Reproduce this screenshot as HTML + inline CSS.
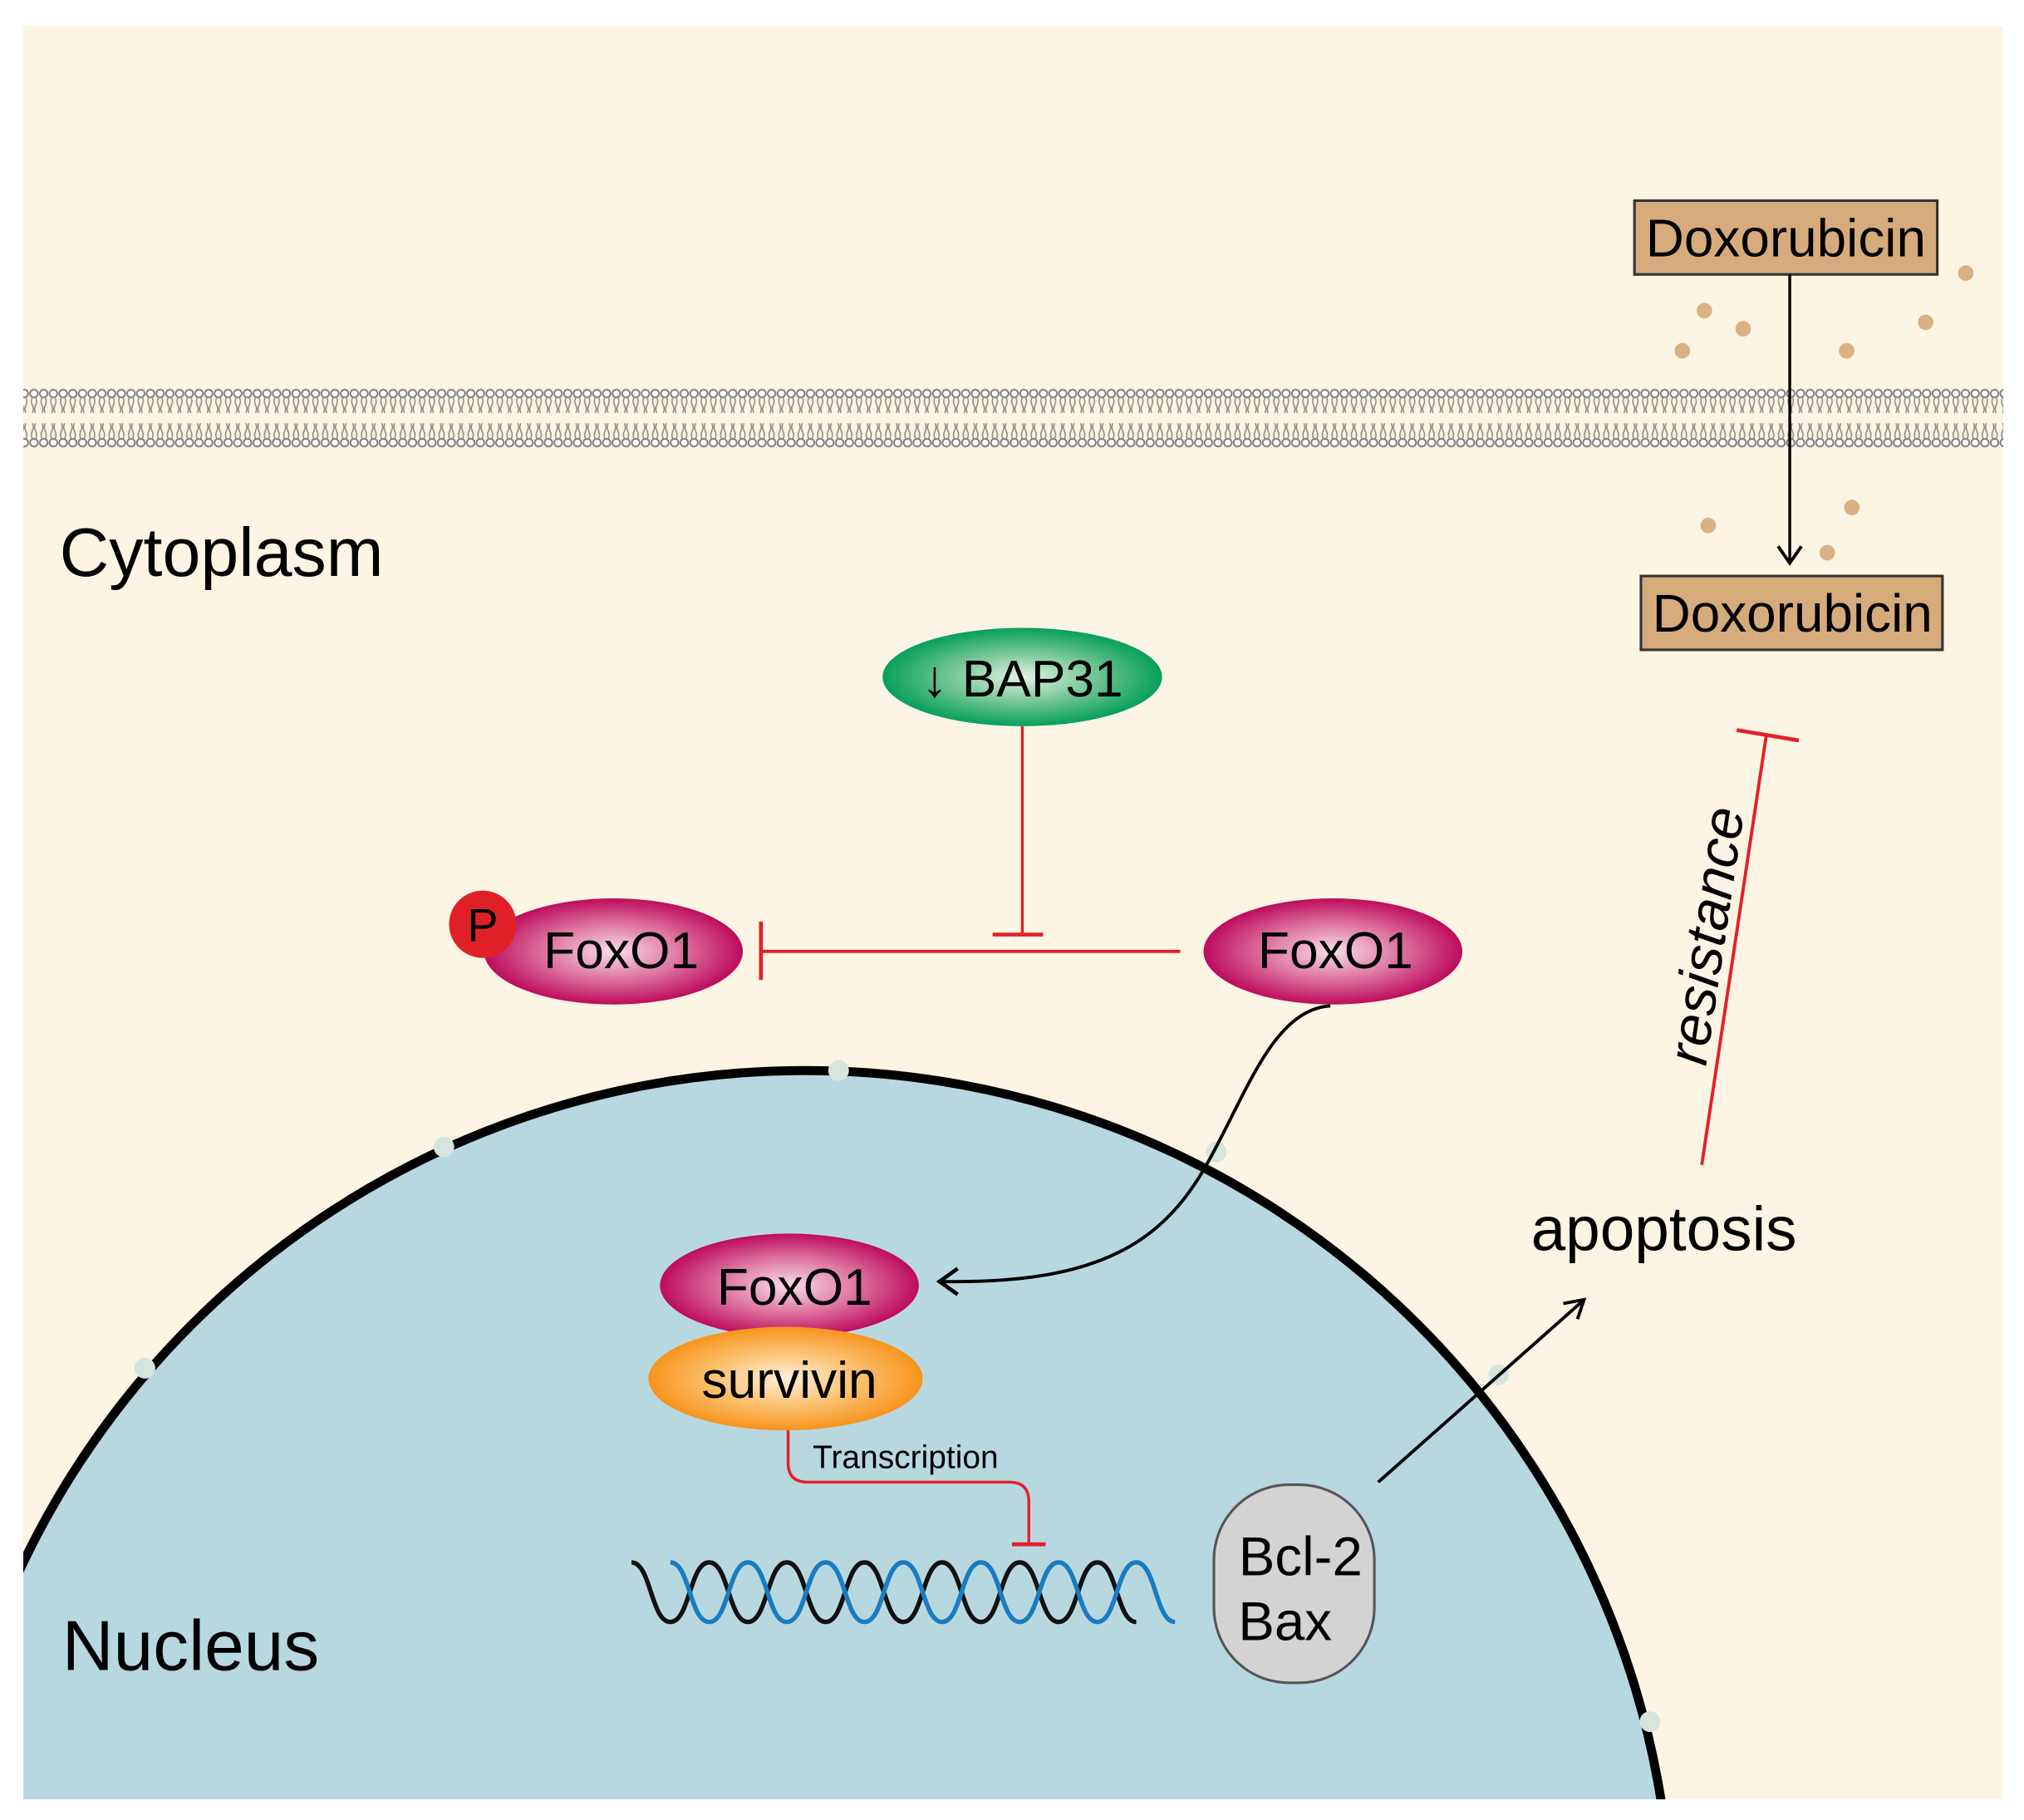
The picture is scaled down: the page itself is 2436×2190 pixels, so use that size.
<!DOCTYPE html>
<html><head><meta charset="utf-8"><style>
html,body{margin:0;padding:0;background:#fff;overflow:hidden;width:2436px;height:2190px;}
svg{display:block;}
text{font-family:"Liberation Sans",Arial,sans-serif;}
</style></head><body>
<svg width="2436" height="2190" viewBox="0 0 1564 1406" preserveAspectRatio="none" xmlns="http://www.w3.org/2000/svg">
<defs>
<radialGradient id="mag" cx="50%" cy="50%" r="50%"><stop offset="0" stop-color="#f8dde8"/><stop offset="0.55" stop-color="#dc6f9c"/><stop offset="1" stop-color="#bd0c5c"/></radialGradient>
<radialGradient id="grn" cx="50%" cy="50%" r="50%"><stop offset="0" stop-color="#e2f2e6"/><stop offset="0.55" stop-color="#6cc390"/><stop offset="1" stop-color="#06a05a"/></radialGradient>
<radialGradient id="org" cx="50%" cy="50%" r="50%"><stop offset="0" stop-color="#fdf0dc"/><stop offset="0.55" stop-color="#fbbf6c"/><stop offset="1" stop-color="#f7941d"/></radialGradient>
<pattern id="lip" x="0" y="300" width="7.5" height="46" patternUnits="userSpaceOnUse">
<circle cx="3.75" cy="4" r="3" fill="#fff" stroke="#7a7a7a" stroke-width="1.2"/>
<path d="M2.5 7 q-1.5 3 0 6 q1.5 3 0 6 M5 7 q1.5 3 0 6 q-1.5 3 0 6" fill="none" stroke="#8a8a8a" stroke-width="1"/>
<path d="M2.5 39 q-1.5 -3 0 -6 q1.5 -3 0 -6 M5 39 q1.5 -3 0 -6 q-1.5 -3 0 -6" fill="none" stroke="#8a8a8a" stroke-width="1"/>
<circle cx="3.75" cy="42" r="3" fill="#fff" stroke="#7a7a7a" stroke-width="1.2"/>
</pattern>
<clipPath id="bg"><rect x="18" y="20" width="1530" height="1370"/></clipPath>
</defs>
<rect x="0" y="0" width="1564" height="1406" fill="#fff"/>
<rect x="18" y="20" width="1530" height="1370" fill="#fcf5e3"/>
<rect x="18" y="300" width="1530" height="46" fill="url(#lip)"/>
<g clip-path="url(#bg)">
<circle cx="622" cy="1497" r="670" fill="#b8d8e0" stroke="#000" stroke-width="7"/>
</g>
<g fill="#d6e4de">
<circle cx="648" cy="827" r="8"/>
<circle cx="343" cy="886" r="8"/>
<circle cx="112" cy="1057" r="8"/>
<circle cx="940" cy="890" r="8"/>
<circle cx="1158" cy="1062" r="8"/>
<circle cx="1275" cy="1330" r="8"/>
</g>
<text x="46" y="445" font-size="53">Cytoplasm</text>
<text x="48" y="1290" font-size="55">Nucleus</text>
<rect x="1263" y="155" width="234" height="57" fill="#d6ab7c" stroke="#333" stroke-width="2"/>
<text x="1380" y="198" font-size="41" text-anchor="middle">Doxorubicin</text>
<rect x="1268" y="445" width="233" height="57" fill="#d6ab7c" stroke="#333" stroke-width="2"/>
<text x="1385" y="488" font-size="41" text-anchor="middle">Doxorubicin</text>
<line x1="1383" y1="212" x2="1383" y2="435" stroke="#000" stroke-width="2.2"/>
<path d="M1374 422 L1383 435 L1392 422" fill="none" stroke="#000" stroke-width="2.5"/>
<g fill="#d9b283">
<circle cx="1317" cy="240" r="6"/><circle cx="1347" cy="254" r="6"/><circle cx="1300" cy="271" r="6"/>
<circle cx="1427" cy="271" r="6"/><circle cx="1488" cy="249" r="6"/><circle cx="1519" cy="211" r="6"/>
<circle cx="1320" cy="406" r="6"/><circle cx="1431" cy="392" r="6"/><circle cx="1412" cy="427" r="6"/>
</g>
<ellipse cx="790" cy="523" rx="108" ry="38" fill="url(#grn)"/>
<text x="790" y="538" font-size="40" text-anchor="middle">↓ BAP31</text>
<line x1="790" y1="561" x2="790" y2="722" stroke="#e3202a" stroke-width="2.2"/>
<line x1="767" y1="722" x2="806" y2="722" stroke="#e3202a" stroke-width="3"/>
<line x1="588" y1="735" x2="912" y2="735" stroke="#e3202a" stroke-width="2.5"/>
<line x1="588" y1="712" x2="588" y2="757" stroke="#e3202a" stroke-width="3"/>
<ellipse cx="474" cy="735" rx="100" ry="41" fill="url(#mag)"/>
<text x="480" y="748" font-size="40" text-anchor="middle">FoxO1</text>
<circle cx="373" cy="714" r="26" fill="#e02027"/>
<text x="373" y="727" font-size="36" text-anchor="middle">P</text>
<ellipse cx="1030" cy="735" rx="100" ry="41" fill="url(#mag)"/>
<text x="1032" y="748" font-size="40" text-anchor="middle">FoxO1</text>
<path d="M1028 777 C985 780 965 840 935 895 C900 960 850 992 728 990" fill="none" stroke="#000" stroke-width="2.5"/>
<path d="M740 980 L726 990 L740 1000" fill="none" stroke="#000" stroke-width="3"/>
<ellipse cx="610" cy="993" rx="100" ry="40" fill="url(#mag)"/>
<ellipse cx="607" cy="1065" rx="106" ry="40" fill="url(#org)"/>
<text x="614" y="1008" font-size="40" text-anchor="middle">FoxO1</text>
<text x="610" y="1080" font-size="40" text-anchor="middle">survivin</text>
<path d="M609 1105 L609 1130 Q609 1145 624 1145 L780 1145 Q795 1145 795 1160 L795 1193" fill="none" stroke="#e3202a" stroke-width="2.2"/>
<line x1="782" y1="1193" x2="808" y2="1193" stroke="#e3202a" stroke-width="3"/>
<text x="628" y="1134" font-size="25">Transcription</text>
<path d="M488 1207 C503 1207 503 1253 518 1253 C533 1253 533 1207 548 1207 C563 1207 563 1253 578 1253 C593 1253 593 1207 608 1207 C623 1207 623 1253 638 1253 C653 1253 653 1207 668 1207 C683 1207 683 1253 698 1253 C713 1253 713 1207 728 1207 C743 1207 743 1253 758 1253 C773 1253 773 1207 788 1207 C803 1207 803 1253 818 1253 C833 1253 833 1207 848 1207 C863 1207 863 1253 878 1253" fill="none" stroke="#111" stroke-width="3.5"/>
<path d="M518 1253 C533 1253 533 1207 548 1207 C563 1207 563 1253 578 1253 C593 1253 593 1207 608 1207 C623 1207 623 1253 638 1253 C653 1253 653 1207 668 1207 C683 1207 683 1253 698 1253 C713 1253 713 1207 728 1207 C743 1207 743 1253 758 1253 C773 1253 773 1207 788 1207 C803 1207 803 1253 818 1253 C833 1253 833 1207 848 1207 C863 1207 863 1253 878 1253 C893 1253 893 1207 908 1207" fill="none" stroke="#1a7cc1" stroke-width="3.5" transform="translate(0,0) scale(1,-1) translate(0,-2460)"/>
<rect x="938" y="1147" width="124" height="153" rx="58" ry="58" fill="#d3d3d3" stroke="#555" stroke-width="2"/>
<text x="1005" y="1217" font-size="42" text-anchor="middle">Bcl-2</text>
<text x="993" y="1267" font-size="42" text-anchor="middle">Bax</text>
<line x1="1065" y1="1145" x2="1223" y2="1005" stroke="#000" stroke-width="2.5"/>
<path d="M1208 1007 L1224 1004 L1219 1019" fill="none" stroke="#000" stroke-width="2.5"/>
<text x="1183" y="966" font-size="48">apoptosis</text>
<line x1="1315" y1="900" x2="1365" y2="567" stroke="#e3202a" stroke-width="2.5"/>
<line x1="1342" y1="564" x2="1390" y2="572" stroke="#e3202a" stroke-width="3"/>
<text transform="translate(1333,725) rotate(-81.5)" font-size="44" font-style="italic" text-anchor="middle">resistance</text>
</svg>
</body></html>
